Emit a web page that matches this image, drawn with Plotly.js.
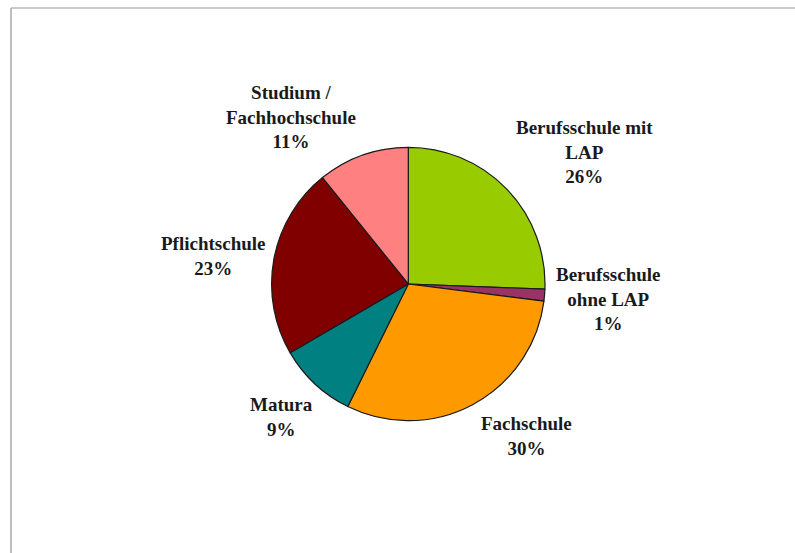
<!DOCTYPE html>
<html>
<head>
<meta charset="utf-8">
<script src="https://cdn.plot.ly/plotly-3.0.1.min.js"></script>
<style>
html,body{margin:0;padding:0;background:#fff;}
#chart{width:795px;height:553px;}
</style>
</head>
<body>
<div id="chart"></div>
<script>
// Data
var categories = ["Berufsschule mit LAP", "Berufsschule ohne LAP", "Fachschule", "Matura", "Pflichtschule", "Studium / Fachhochschule"];
var displayNames = ["Berufsschule mit<br>LAP", "Berufsschule<br>ohne LAP", "Fachschule", "Matura", "Pflichtschule", "Studium /<br>Fachhochschule"];
var values = [25.6, 1.4, 30.3, 9.3, 22.6, 10.8];
var colors = ["#99CC00", "#993366", "#FF9900", "#008080", "#800000", "#FF8080"];

// Label placement (layout only, pixel centres)
var labelPos = [[584, 152], [608, 299], [526, 436], [281, 417], [213, 256], [291, 117]];

var W = 795, H = 553;
var total = values.reduce(function(a, b){ return a + b; }, 0);
var annotations = categories.map(function(c, i){
  return {
    xref: 'paper', yref: 'paper',
    x: labelPos[i][0] / W, y: 1 - labelPos[i][1] / H,
    xanchor: 'center', yanchor: 'middle',
    showarrow: false, align: 'center',
    text: displayNames[i] + '<br>' + Math.round(values[i] / total * 100) + '%',
    font: {family: 'Liberation Serif, serif', size: 19, color: '#1a1a1a', weight: 'bold'}
  };
});

var cx = 408.3, cy = 284, r = 136.7;
var trace = {
  type: 'pie',
  labels: categories,
  values: values,
  sort: false,
  direction: 'clockwise',
  rotation: 0,
  textinfo: 'none',
  hoverinfo: 'label+percent',
  marker: {colors: colors, line: {color: '#1a1a1a', width: 1.2}},
  domain: {x: [(cx - r) / W, (cx + r) / W], y: [1 - (cy + r) / H, 1 - (cy - r) / H]}
};

var layout = {
  width: W, height: H,
  margin: {l: 0, r: 0, t: 0, b: 0},
  paper_bgcolor: '#ffffff',
  showlegend: false,
  annotations: annotations,
  shapes: [
    {type: 'line', xref: 'paper', yref: 'paper', x0: 11 / W, x1: 1, y0: 1 - 8 / H, y1: 1 - 8 / H, line: {color: '#b8b8b8', width: 1.5}},
    {type: 'line', xref: 'paper', yref: 'paper', x0: 11 / W, x1: 11 / W, y0: 0, y1: 1 - 8 / H, line: {color: '#a8a8a8', width: 1.5}}
  ]
};

Plotly.newPlot('chart', [trace], layout, {displayModeBar: false, staticPlot: true});
</script>
</body>
</html>
